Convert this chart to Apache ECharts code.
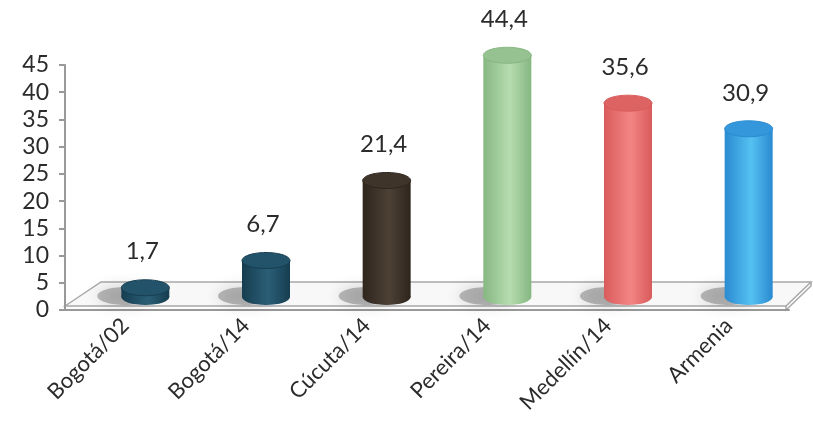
<!DOCTYPE html>
<html>
<head>
<meta charset="utf-8">
<script src="https://cdn.jsdelivr.net/npm/echarts@6/dist/echarts.min.js"></script>
<style>
  html, body { margin: 0; padding: 0; background: #fff; }
  #chart { width: 813px; height: 437px; }
</style>
</head>
<body>
<div id="chart"></div>
<script>
// data
var categories = ['Bogotá/02', 'Bogotá/14', 'Cúcuta/14', 'Pereira/14', 'Medellín/14', 'Armenia'];
var values = [1.7, 6.7, 21.4, 44.4, 35.6, 30.9];
var yTicks = [0, 5, 10, 15, 20, 25, 30, 35, 40, 45];

// colours per bar: [dark edge, light middle, top]
var barColors = [
  ['#163d50', '#2b5f77', '#23536a'],
  ['#163d50', '#2b5f77', '#23536a'],
  ['#2e251d', '#4d4136', '#3f342a'],
  ['#86b781', '#b6dcb0', '#96c190'],
  ['#d95b5b', '#f38584', '#dd6363'],
  ['#2a8ad0', '#55c1f2', '#3597db']
];

var chart = echarts.init(document.getElementById('chart'));

var DX = 20, DY = -13, BW = 48, RY = 8;

function renderCyl(params, api) {
  var i = api.value(0);
  var v = api.value(1);
  var top = api.coord([i, v]);
  var base = api.coord([i, 0]);
  var cx = top[0] + DX;
  var ty = top[1] + DY;
  var by = base[1] + DY;
  var c = barColors[i];
  var rx = BW / 2;
  var grad = new echarts.graphic.LinearGradient(0, 0, 1, 0, [
    { offset: 0, color: c[0] },
    { offset: 0.55, color: c[1] },
    { offset: 1, color: c[0] }
  ]);
  return {
    type: 'group',
    children: [
      {
        type: 'ellipse',
        shape: { cx: cx - 20, cy: by - 1, rx: rx + 4, ry: RY + 1 },
        style: { fill: 'rgba(70,70,70,0.35)', shadowBlur: 16, shadowColor: 'rgba(0,0,0,0.45)' },
        z2: 0
      },
      {
        type: 'ellipse',
        shape: { cx: cx, cy: by, rx: rx, ry: RY },
        style: { fill: grad },
        z2: 1
      },
      {
        type: 'rect',
        shape: { x: cx - rx, y: ty, width: BW, height: Math.max(by - ty, 0) },
        style: { fill: grad },
        z2: 2
      },
      {
        type: 'ellipse',
        shape: { cx: cx, cy: ty, rx: rx, ry: RY },
        style: { fill: c[2], stroke: c[0], lineWidth: 1 },
        z2: 3
      },
      {
        type: 'text',
        style: {
          x: cx - 3, y: ty - 36,
          text: String(v).replace('.', ','),
          fill: '#2b2b2b',
          font: '24px Lato',
          align: 'center',
          verticalAlign: 'middle'
        },
        z2: 4
      }
    ]
  };
}

var option = {
  animation: false,
  grid: { left: 65, right: 24, top: 65, bottom: 127 },
  graphic: [
    {
      type: 'polygon',
      z: 0,
      shape: { points: [[65, 306], [101, 282], [811, 282], [786, 306]] },
      style: { fill: '#f8f8f8', stroke: '#a8a8a8', lineWidth: 1.5 }
    },
    {
      type: 'polyline',
      z: 0,
      shape: { points: [[786, 306], [786, 310], [811, 286], [811, 282]] },
      style: { fill: 'none', stroke: '#a8a8a8', lineWidth: 1.5 }
    }
  ],
  xAxis: {
    type: 'category',
    data: categories,
    axisLine: { lineStyle: { color: '#999', width: 2 } },
    axisTick: { length: 8, lineStyle: { color: '#999', width: 2 } },
    axisLabel: {
      rotate: 45,
      fontSize: 22,
      fontFamily: 'Lato',
      color: '#2b2b2b',
      margin: 12
    }
  },
  yAxis: {
    type: 'value',
    min: 0,
    max: 45,
    interval: 5,
    splitLine: { show: false },
    axisLine: { show: true, lineStyle: { color: '#999', width: 2 } },
    axisTick: { show: true, length: 6, lineStyle: { color: '#999', width: 2 } },
    axisLabel: {
      fontSize: 23,
      fontFamily: 'Lato',
      color: '#2b2b2b',
      margin: 16,
      formatter: function (val) { return yTicks.indexOf(val) >= 0 ? String(val) : ''; }
    }
  },
  series: [{
    type: 'custom',
    z: 3,
    renderItem: renderCyl,
    data: values.map(function (v, i) { return [i, v]; })
  }]
};

chart.setOption(option);
</script>
</body>
</html>
